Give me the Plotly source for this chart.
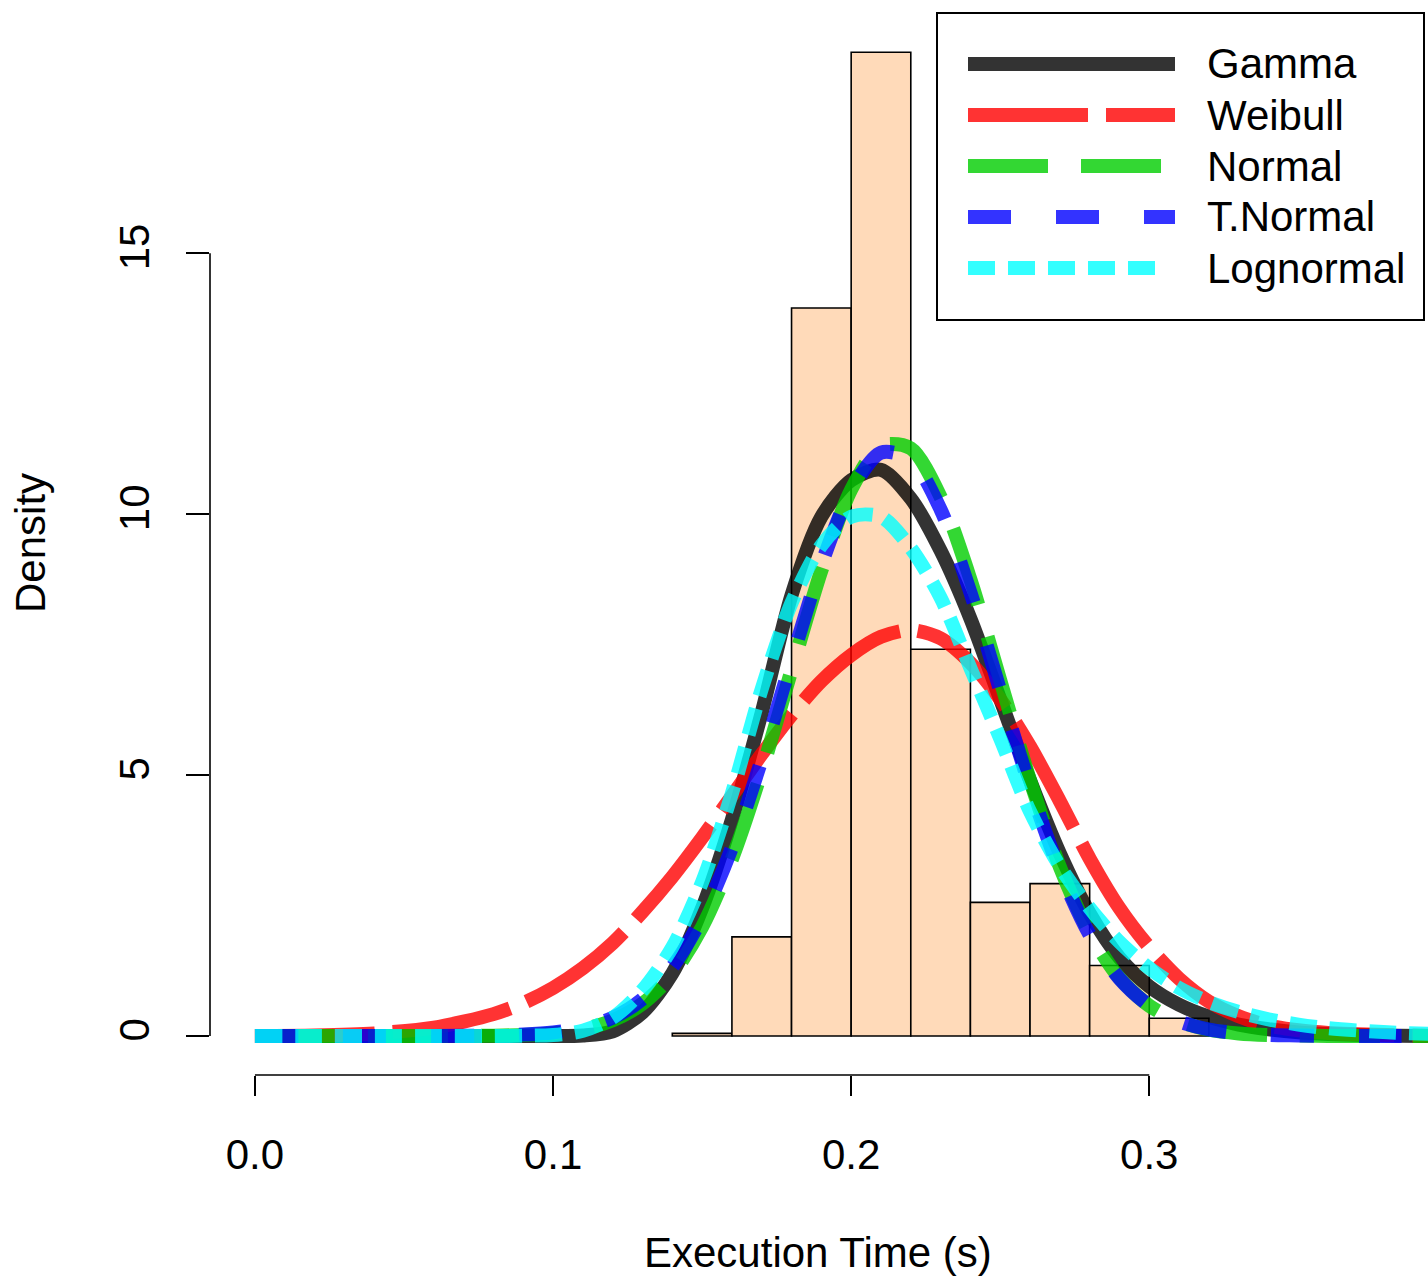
import plotly.graph_objects as go

# ---------------- data ----------------
bin_left = [0.14, 0.16, 0.18, 0.20, 0.22, 0.24, 0.26, 0.28, 0.30]
bin_density = [0.05, 1.9, 13.95, 18.85, 7.41, 2.56, 2.92, 1.35, 0.34]
bin_width = 0.02

x_grid = [0.00, 0.02, 0.04, 0.06, 0.08, 0.09, 0.10, 0.11, 0.12, 0.13, 0.14, 0.15,
          0.16, 0.17, 0.18, 0.19, 0.20, 0.21, 0.22, 0.23, 0.24, 0.25, 0.26, 0.27,
          0.28, 0.29, 0.30, 0.31, 0.32, 0.33, 0.34, 0.35, 0.36, 0.38, 0.40]

gamma_y = [0, 0, 0, 0, 0, 0, 0.0, 0.01, 0.09, 0.45, 1.2, 2.45,
           4.15, 6.2, 8.45, 9.95, 10.65, 10.85, 10.3, 9.3, 8.0, 6.45, 4.9, 3.5,
           2.35, 1.5, 0.95, 0.6, 0.37, 0.22, 0.13, 0.07, 0.04, 0.01, 0.0]

weibull_y = [0.0, 0.01, 0.05, 0.16, 0.42, 0.63, 0.92, 1.3, 1.78, 2.38, 3.05, 3.8,
             4.6, 5.4, 6.15, 6.8, 7.3, 7.65, 7.78, 7.62, 7.15, 6.45, 5.55, 4.5,
             3.4, 2.45, 1.7, 1.1, 0.66, 0.38, 0.2, 0.11, 0.06, 0.02, 0.0]

normal_y = [0, 0, 0, 0.0, 0.007, 0.02, 0.054, 0.13, 0.30, 0.62, 1.18, 2.09,
            3.39, 5.08, 7.01, 8.92, 10.47, 11.31, 11.26, 10.33, 8.75, 6.82, 4.90, 3.24,
            1.98, 1.11, 0.58, 0.28, 0.12, 0.05, 0.02, 0.01, 0.0, 0.0, 0.0]

tnormal_y = [0, 0, 0, 0.0, 0.01, 0.027, 0.068, 0.16, 0.35, 0.71, 1.32, 2.27,
             3.61, 5.30, 7.20, 9.03, 10.45, 11.18, 11.05, 10.09, 8.50, 6.62, 4.77, 3.17,
             1.94, 1.10, 0.58, 0.28, 0.125, 0.05, 0.02, 0.01, 0.0, 0.0, 0.0]

lognormal_y = [0, 0, 0, 0.0, 0.0, 0.005, 0.02, 0.1, 0.35, 0.88, 1.7, 2.95,
               4.65, 6.65, 8.3, 9.4, 9.95, 9.95, 9.35, 8.4, 7.05, 5.7, 4.3, 3.25,
               2.45, 1.8, 1.3, 0.92, 0.65, 0.46, 0.32, 0.22, 0.15, 0.07, 0.03]

series_names = ["Gamma", "Weibull", "Normal", "T.Normal", "Lognormal"]
series_values = [gamma_y, weibull_y, normal_y, tnormal_y, lognormal_y]

x_tick_vals = [0.0, 0.1, 0.2, 0.3]
x_tick_text = ["0.0", "0.1", "0.2", "0.3"]
y_tick_vals = [0, 5, 10, 15]
y_tick_text = ["0", "5", "10", "15"]

# ---------------- styles ----------------
colors = ["rgba(0,0,0,0.8)", "rgba(255,0,0,0.8)", "rgba(0,205,0,0.8)",
          "rgba(0,0,255,0.8)", "rgba(0,255,255,0.8)"]
dashes = ["solid", "120px,18px", "80px,33px", "43px,45px", "27px,13px"]
legend_line_end = [1175, 1175, 1161, 1175, 1156]
LW = 14
FONT = "Liberation Sans, Arial, sans-serif"
FS = 42

# the page's body margin is removed in post_script, so the figure fills the window
W, H = 1428, 1284
ML, MR, MT, MB = 210, 0, 21, H - 1075
PW = W - ML - MR
PH = H - MT - MB


def px_x(p):
    """window pixel -> paper x"""
    return (p - ML) / PW


def px_y(p):
    """window pixel -> paper y"""
    return (H - MB - p) / PH


fig = go.Figure()

centers = [b + bin_width / 2 for b in bin_left]
fig.add_trace(go.Bar(
    x=centers, y=bin_density, width=bin_width,
    marker=dict(color="#FFDAB9", line=dict(color="black", width=1.6)),
    showlegend=False, hoverinfo="skip"))

for name, vals, col, dsh in zip(series_names, series_values, colors, dashes):
    fig.add_trace(go.Scatter(
        x=x_grid, y=vals, mode="lines", name=name,
        line=dict(color=col, width=LW, dash=dsh, shape="spline", smoothing=0.8),
        showlegend=False))

shapes = [
    # R-style axis lines
    dict(type="line", xref="x", yref="paper", x0=0.0, x1=0.3, y0=0, y1=0,
         line=dict(color="black", width=1.6)),
    dict(type="line", xref="paper", yref="y", x0=0, x1=0, y0=0, y1=15,
         line=dict(color="black", width=1.6)),
    # legend box
    dict(type="rect", xref="paper", yref="paper",
         x0=px_x(937), x1=px_x(1424), y0=px_y(320), y1=px_y(13),
         line=dict(color="black", width=2), fillcolor="white"),
]
annotations = []
row_px = [64, 115, 166, 217, 268]
for name, col, dsh, ry, xe in zip(series_names, colors, dashes, row_px, legend_line_end):
    shapes.append(dict(type="line", xref="paper", yref="paper",
                       x0=px_x(968), x1=px_x(xe), y0=px_y(ry), y1=px_y(ry),
                       line=dict(color=col, width=LW, dash=dsh)))
    annotations.append(dict(text=name, xref="paper", yref="paper",
                            x=px_x(1205), y=px_y(ry), xanchor="left", yanchor="middle",
                            showarrow=False, font=dict(family=FONT, size=FS, color="black")))

annotations.append(dict(text="Density", xref="paper", yref="paper",
                        x=px_x(30), y=px_y(543), textangle=-90,
                        xanchor="center", yanchor="middle", showarrow=False,
                        font=dict(family=FONT, size=FS, color="black")))
annotations.append(dict(text="Execution Time (s)", xref="paper", yref="paper",
                        x=px_x(818), y=px_y(1252),
                        xanchor="center", yanchor="middle", showarrow=False,
                        font=dict(family=FONT, size=FS, color="black")))

fig.update_layout(
    width=W, height=H,
    margin=dict(l=ML, r=MR, t=MT, b=MB, pad=0),
    paper_bgcolor="white", plot_bgcolor="white",
    font=dict(family=FONT, size=FS, color="black"),
    shapes=shapes, annotations=annotations,
    xaxis=dict(range=[-0.01508, 0.3935], showgrid=False, zeroline=False, showline=False,
               tickvals=x_tick_vals, ticktext=x_tick_text, ticks="outside",
               ticklen=20, tickwidth=1.6, tickcolor="black",
               ticklabelstandoff=23, tickfont=dict(family=FONT, size=FS, color="black")),
    yaxis=dict(range=[-0.747, 19.45], showgrid=False, zeroline=False, showline=False,
               tickvals=y_tick_vals, ticktext=y_tick_text, ticks="outside",
               ticklen=23, tickwidth=1.6, tickcolor="black", tickangle=-90,
               ticklabelstandoff=20, tickfont=dict(family=FONT, size=FS, color="black")),
)

fig.write_html(
    "out.html",
    config={"displayModeBar": False},
    post_script="document.body.style.margin='0';document.body.style.overflow='hidden';",
)
